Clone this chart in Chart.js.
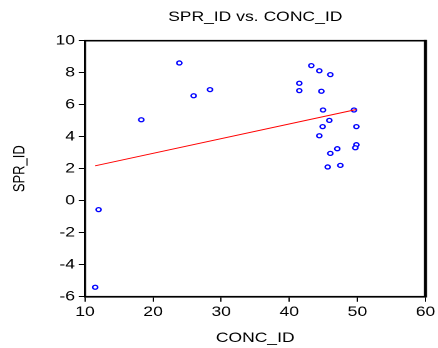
<!DOCTYPE html>
<html>
<head>
<meta charset="utf-8">
<script src="https://cdn.jsdelivr.net/npm/chart.js@4"></script>
<style>
  html, body { margin: 0; padding: 0; background: #fff; overflow: hidden; }
  /* el original esta estirado en horizontal, asi que dibujamos angosto y escalamos */
  #wrap { width: 350px; height: 348px; transform: scaleX(1.2514); transform-origin: 0 0; }
</style>
</head>
<body>
<div id="wrap"><canvas id="scatterChart"></canvas></div>
<script>
// Datos
const concId = [23.85, 25.96, 28.36, 18.27, 43.23, 44.41, 46.03, 41.47, 41.47, 44.71, 44.95, 49.5,
                45.88, 44.9, 49.85, 44.41, 49.85, 49.7, 47.05, 46.03, 47.5, 45.64, 12.0, 11.5];
const sprId = [8.61, 6.56, 6.94, 5.06, 8.44, 8.12, 7.88, 7.34, 6.88, 6.84, 5.67, 5.67,
               5.02, 4.63, 4.63, 4.06, 3.5, 3.31, 3.25, 2.96, 2.21, 2.11, -0.56, -5.41];
// recta de ajuste (extremos)
const fitX = [11.5, 49.85];
const fitY = [2.18, 5.70];

const xTicks = [10, 20, 30, 40, 50, 60];
const yTicks = [-6, -4, -2, 0, 2, 4, 6, 8, 10];

const fontFamily = "'Liberation Sans', Arial, sans-serif";

// Marco negro alrededor del area del grafico
const framePlugin = {
  id: 'frame',
  afterDraw(chart) {
    const { ctx, chartArea } = chart;
    ctx.save();
    ctx.strokeStyle = '#000';
    ctx.lineWidth = 1.6;
    ctx.strokeRect(chartArea.left, chartArea.top, chartArea.right - chartArea.left, chartArea.bottom - chartArea.top);
    ctx.lineWidth = 2.4;
    ctx.beginPath();
    ctx.moveTo(chartArea.right, chartArea.top - 0.8);
    ctx.lineTo(chartArea.right, chartArea.bottom + 0.8);
    ctx.stroke();
    ctx.restore();
  }
};

const ctx = document.getElementById('scatterChart').getContext('2d');
new Chart(ctx, {
  type: 'scatter',
  data: {
    datasets: [
      {
        label: 'fit',
        type: 'line',
        data: fitX.map((x, i) => ({ x: x, y: fitY[i] })),
        borderColor: '#ff0000',
        borderWidth: 1,
        pointRadius: 0,
        fill: false
      },
      {
        label: 'SPR_ID',
        data: concId.map((x, i) => ({ x: x, y: sprId[i] })),
        pointStyle: 'circle',
        pointRadius: 2,
        pointBorderWidth: 1.3,
        borderColor: '#0000ff',
        backgroundColor: '#ffffff'
      }
    ]
  },
  plugins: [framePlugin],
  options: {
    responsive: true,
    maintainAspectRatio: false,
    devicePixelRatio: 2,
    animation: false,
    layout: { padding: { left: 0, right: 10, top: 0, bottom: 0 } },
    plugins: {
      legend: { display: false },
      tooltip: { enabled: false },
      title: {
        display: true,
        text: 'SPR_ID vs. CONC_ID',
        fullSize: false,
        color: '#000',
        font: { family: fontFamily, size: 14, weight: 'normal' },
        padding: { top: 8.6, bottom: 15.3 }
      }
    },
    scales: {
      x: {
        type: 'linear',
        min: 10,
        max: 60,
        afterBuildTicks: (scale) => { scale.ticks = xTicks.map(v => ({ value: v })); },
        afterFit: (scale) => { scale.height = 51.3; },
        grid: { display: true, drawOnChartArea: false, drawTicks: true, tickLength: 5, color: '#000', lineWidth: 1 },
        border: { display: true, color: '#000', width: 1.6 },
        ticks: { color: '#000', padding: 2, maxRotation: 0, font: { family: fontFamily, size: 14 } },
        title: {
          display: true,
          text: 'CONC_ID',
          color: '#000',
          font: { family: fontFamily, size: 14 },
          padding: { top: 0, bottom: 1.3 }
        }
      },
      y: {
        type: 'linear',
        min: -6,
        max: 10,
        afterBuildTicks: (scale) => { scale.ticks = yTicks.map(v => ({ value: v })); },
        afterFit: (scale) => { scale.width = 67.9; },
        grid: { display: true, drawOnChartArea: false, drawTicks: true, tickLength: 5, color: '#000', lineWidth: 1 },
        border: { display: true, color: '#000', width: 1.6 },
        ticks: { color: '#000', padding: 3, font: { family: fontFamily, size: 14 } },
        title: {
          display: true,
          text: 'SPR_ID',
          color: '#000',
          font: { family: fontFamily, size: 13 },
          padding: { top: 8, bottom: 0 }
        }
      }
    }
  }
});
</script>
</body>
</html>
